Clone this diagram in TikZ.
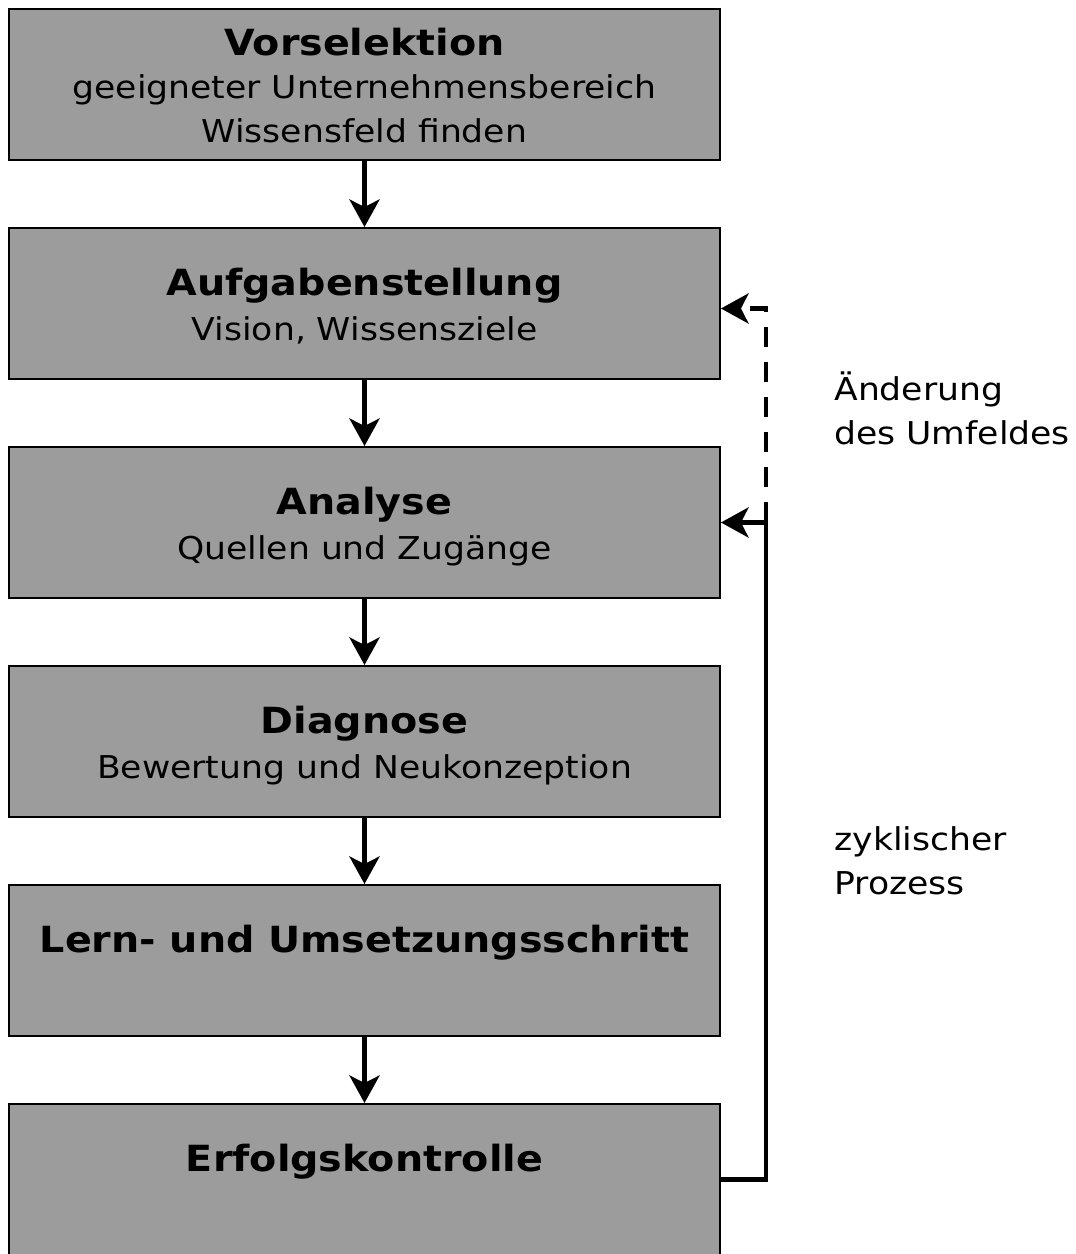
\documentclass[tikz,border=0pt]{standalone}
\usepackage{fontspec}
\setmainfont[FakeStretch=1.1]{DejaVu Sans}
\usetikzlibrary{arrows.meta}
\definecolor{boxgray}{RGB}{156,156,156}

\begin{document}
\begin{tikzpicture}
    \pgfmathsetmacro{\boxwidth}{14.22}
    \pgfmathsetmacro{\boxheight}{3.02}
    \pgfmathsetmacro{\boxstep}{4.38}
    \pgfmathsetmacro{\boxx}{7.29}
    \pgfmathsetmacro{\boxtop}{23.39}
    \pgfmathsetmacro{\loopx}{15.32}
    \pgfmathsetmacro{\notex}{16.68}
    \providecommand{\titlefontsize}{\fontsize{20.5pt}{23.9pt}\selectfont\bfseries}
    \providecommand{\textfontsize}{\fontsize{17.9pt}{23.9pt}\selectfont}
    \providecommand{\linestrut}{\rule[-0.13cm]{0pt}{0.84cm}}
    \tikzset{
      stepbox/.style={draw,line width=1.1pt,fill=boxgray,minimum width=\boxwidth cm,minimum height=\boxheight cm,inner sep=0,align=center,font=\textfontsize},
      flow/.style={line width=2.7pt,-{Stealth[length=0.55cm,width=0.6cm,inset=0.15cm]}},
      note/.style={anchor=north west,align=left,inner sep=0,font=\textfontsize}
    }
    \useasboundingbox (0,0) rectangle (21.5,25.08);
    % the six steps
    \node[stepbox] (vorselektion) at (\boxx,\boxtop) {{\titlefontsize Vorselektion}\linestrut\\geeigneter Unternehmensbereich\linestrut\\Wissensfeld finden\linestrut};
    \node[stepbox] (aufgabe) at (\boxx,\boxtop-\boxstep) {{\titlefontsize Aufgabenstellung}\linestrut\\Vision, Wissensziele\linestrut};
    \node[stepbox] (analyse) at (\boxx,\boxtop-2*\boxstep) {{\titlefontsize Analyse}\linestrut\\Quellen und Zugänge\linestrut};
    \node[stepbox] (diagnose) at (\boxx,\boxtop-3*\boxstep) {{\titlefontsize Diagnose}\linestrut\\Bewertung und Neukonzeption\linestrut};
    \node[stepbox] (umsetzung) at (\boxx,\boxtop-4*\boxstep) {{\titlefontsize Lern- und Umsetzungsschritt}\linestrut\\\linestrut};
    \node[stepbox] (erfolg) at (\boxx,\boxtop-5*\boxstep) {{\titlefontsize Erfolgskontrolle}\linestrut\\\linestrut};
    \foreach \a/\b in {vorselektion/aufgabe,aufgabe/analyse,analyse/diagnose,diagnose/umsetzung,umsetzung/erfolg}
      \draw[flow] (\a.south) -- (\b.north);
    % feedback loop
    \coordinate (loopjoin) at (\loopx,\boxtop-2*\boxstep);
    \coordinate (loopturn) at (\loopx,\boxtop-\boxstep-0.1);
    \draw[flow] (erfolg.east) -| (loopjoin) -- (analyse.east);
    \draw[flow,dash pattern=on 0.4cm off 0.3cm] (loopjoin) -- (loopturn) -- (aufgabe.east |- loopturn);
    \node[note] (umfeld) at (\notex,17.79) {Änderung\linestrut\\des Umfeldes\linestrut};
    \node[note] (zyklus) at (\notex,8.79) {zyklischer\linestrut\\Prozess\linestrut};
\end{tikzpicture}
\end{document}
